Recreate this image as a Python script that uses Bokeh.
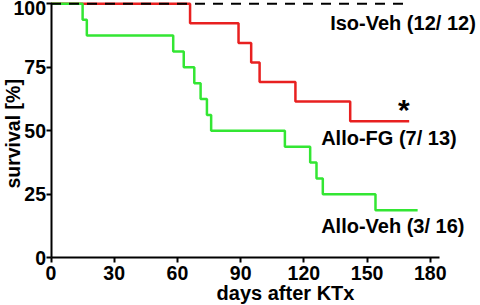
import math
from bokeh.plotting import figure
from bokeh.models import Range1d, FixedTicker, Label
from bokeh.embed import file_html
from bokeh.resources import INLINE

# Data
iso_days = [0, 170]
iso_surv = [100, 100]

fg_days = [0, 66, 89, 95, 99, 116, 142, 170]
fg_surv = [100, 92.3, 84.6, 76.9, 69.2, 61.5, 53.8, 53.8]

veh_days = [0, 15, 17, 58, 63, 68, 71, 74, 76, 111, 123, 126, 129, 154, 174]
veh_surv = [100, 93.75, 87.5, 81.25, 75, 68.75, 62.5, 56.25, 50, 43.75, 37.5, 31.25, 25, 18.75, 18.75]

x_ticks = [0, 30, 60, 90, 120, 150, 180]
y_ticks = [0, 25, 50, 75, 100]

series_labels = ["Iso-Veh (12/ 12)", "Allo-FG (7/ 13)", "Allo-Veh (3/ 16)"]

FONT = "Liberation Sans"

p = figure(width=480, height=305, output_backend="svg", toolbar_location=None,
           x_range=Range1d(-23.97, 203.84), y_range=Range1d(-18.78, 101.3),
           min_border=0)
p.outline_line_color = None
p.xgrid.visible = False
p.ygrid.visible = False
p.background_fill_color = "white"
p.border_fill_color = "white"

for ax in (p.xaxis, p.yaxis):
    ax.fixed_location = 0
    ax.axis_line_width = 2
    ax.axis_line_color = "black"
    ax.major_tick_line_width = 2
    ax.major_tick_line_color = "black"
    ax.major_tick_out = 5
    ax.major_tick_in = 0
    ax.minor_tick_line_color = None
    ax.major_label_text_font = FONT
    ax.major_label_text_font_style = "bold"
    ax.major_label_text_font_size = "19.5px"
    ax.major_label_text_color = "black"

p.xaxis.ticker = FixedTicker(ticks=x_ticks)
p.yaxis.ticker = FixedTicker(ticks=y_ticks)
p.xaxis.bounds = (0, 184.3)
p.yaxis.bounds = (0, 100)
p.xaxis.major_label_standoff = 3
p.yaxis.major_label_standoff = 0

p.step(fg_days, fg_surv, mode="after", line_color="#e82020", line_width=2.5)
p.step(veh_days, veh_surv, mode="after", line_color="#33e633", line_width=2.5)
p.line(iso_days, iso_surv, line_color="black", line_width=2, line_dash="10 8")

def add_label(text, x, y, size="20px", align="left", baseline="alphabetic", angle=0.0):
    p.add_layout(Label(x=x, y=y, text=text, text_font=FONT, text_font_style="bold",
                       text_font_size=size, text_align=align, text_baseline=baseline,
                       text_color="black", angle=angle))

add_label(series_labels[0], 132.5, 92.5)
add_label(series_labels[1], 128.2, 47.3)
add_label(series_labels[2], 128.2, 12.4)
add_label("*", 167.4, 58.5, size="30px", align="center", baseline="middle")
add_label("days after KTx", 111.3, -13.8, size="20px", align="center")
add_label("survival [%]", -18.15, 48.8, size="19.5px", align="center", angle=math.pi / 2)

open("out.html", "w").write(file_html(p, INLINE))
